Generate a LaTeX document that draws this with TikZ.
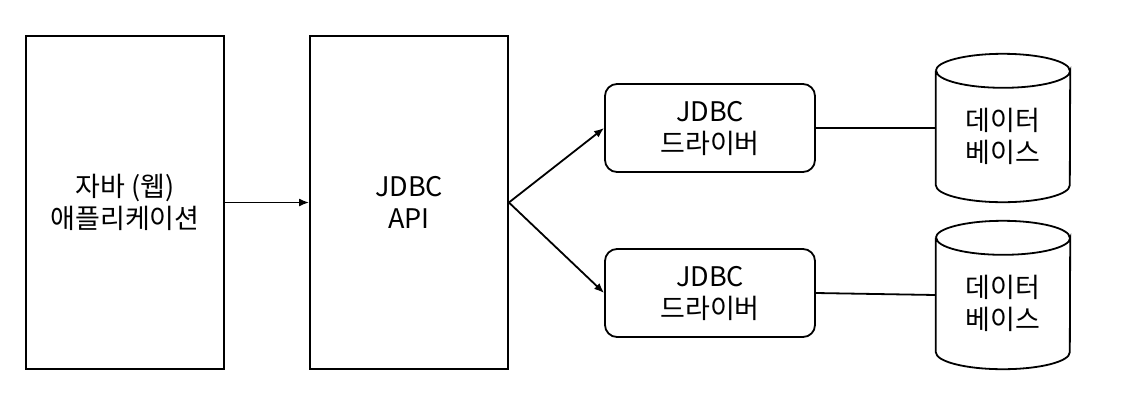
\documentclass[tikz,border=0pt]{standalone}
\usepackage{fontspec}
\setmainfont{Noto Sans CJK KR}
\usetikzlibrary{arrows.meta}
\begin{document}
\begin{tikzpicture}[x=1pt,y=-1pt,
  every node/.style={font=\fontsize{27}{32}\selectfont, align=center, inner sep=0pt},
  blk/.style={draw, line width=1.8pt, minimum width=198pt, minimum height=333pt},
  drv/.style={draw, line width=1.8pt, rounded corners=12pt, minimum width=210pt, minimum height=88pt},
  dbtxt/.style={minimum width=134pt, minimum height=148pt},
  cyl/.style={line width=1.8pt},
  arr/.style={line width=1.8pt, -{Latex[length=10pt,width=8pt]}},
  ln/.style={line width=1.8pt}]
\useasboundingbox (0,0) rectangle (1121,408);
\node[blk] (app) at (125,202.5) {자바 (웹)\\애플리케이션};
\node[blk] (api) at (409,202.5) {JDBC\\API};
\node[drv] (d1) at (710,128) {JDBC\\드라이버};
\node[drv] (d2) at (710,293) {JDBC\\드라이버};
% cylinders
\node[dbtxt] (db1) at (1003,128) {};
\node[dbtxt] (db2) at (1003,295) {};
\foreach \c in {db1,db2}{
  \draw[cyl] ([yshift=-17pt]\c.north west) -- ([yshift=17pt]\c.south west)
    arc[start angle=180,end angle=360,x radius=67pt,y radius=17pt]
    -- ([yshift=-17pt]\c.north east)
    arc[start angle=0,end angle=-180,x radius=67pt,y radius=17pt];
  \draw[cyl] ([yshift=-17pt]\c.north west)
    arc[start angle=180,end angle=0,x radius=67pt,y radius=17pt];
}
\node at ([yshift=-8pt]db1.center) {데이터\\베이스};
\node at ([yshift=-8pt]db2.center) {데이터\\베이스};
\draw[arr] (app.east) -- (app.east -| api.west);
\draw[arr] (api.east) -- (d1.west);
\draw[arr] (api.east) -- (d2.west);
\draw[ln] (d1.east) -- (db1.west);
\draw[ln] (d2.east) -- (db2.west);
\end{tikzpicture}
\end{document}
